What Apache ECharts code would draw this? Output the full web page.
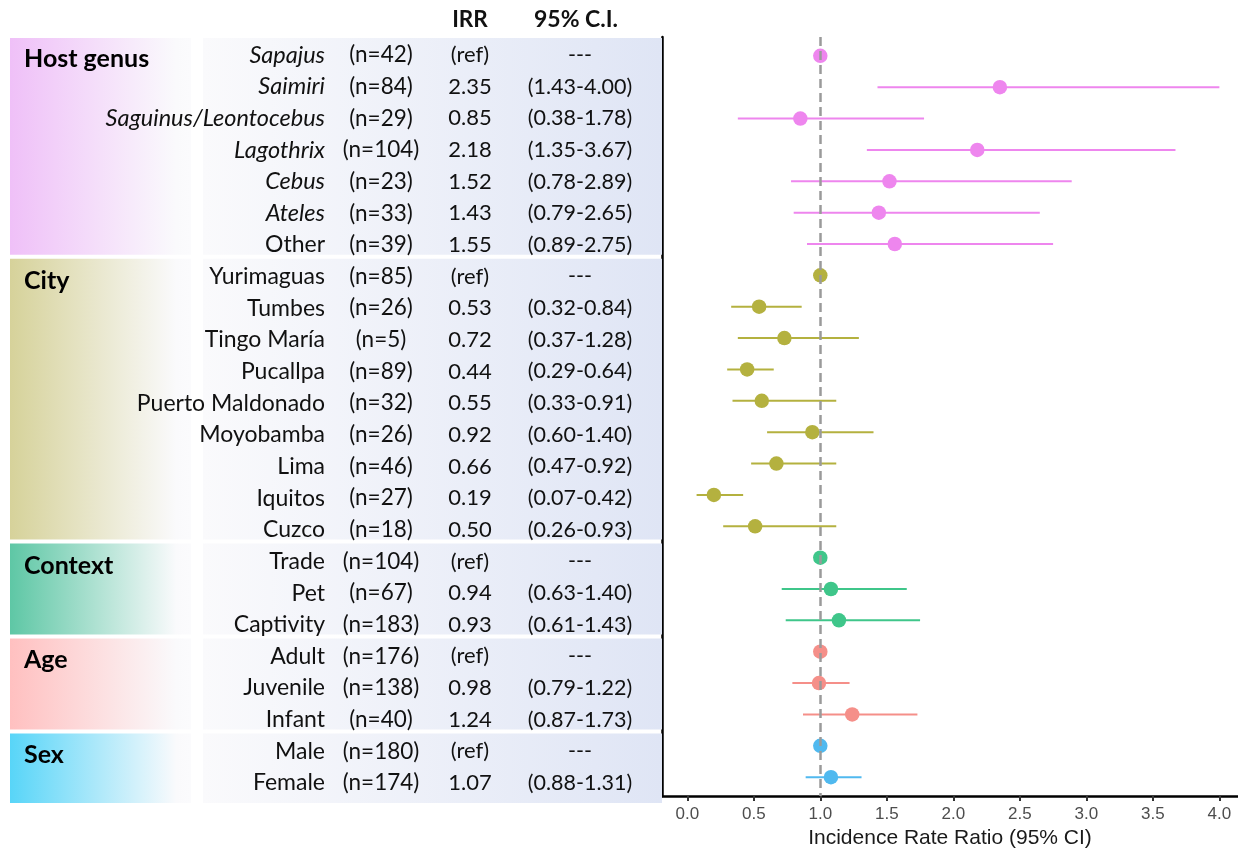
<!DOCTYPE html>
<html><head><meta charset="utf-8">
<script src="https://cdn.jsdelivr.net/npm/echarts@6/dist/echarts.min.js"></script>
<style>html,body{margin:0;padding:0;background:#fff}#c{width:1238px;height:854px}</style>
</head><body><div id="c"></div>
<script>
// ---------- data ----------
const groupNames = ['Host genus', 'City', 'Context', 'Age', 'Sex'];
const groupSizes = [7, 9, 3, 3, 2];
const categories = ['Sapajus', 'Saimiri', 'Saguinus/Leontocebus', 'Lagothrix', 'Cebus', 'Ateles', 'Other',
  'Yurimaguas', 'Tumbes', 'Tingo María', 'Pucallpa', 'Puerto Maldonado', 'Moyobamba', 'Lima', 'Iquitos', 'Cuzco',
  'Trade', 'Pet', 'Captivity',
  'Adult', 'Juvenile', 'Infant',
  'Male', 'Female'];
const nLabels = ['(n=42)', '(n=84)', '(n=29)', '(n=104)', '(n=23)', '(n=33)', '(n=39)',
  '(n=85)', '(n=26)', '(n=5)', '(n=89)', '(n=32)', '(n=26)', '(n=46)', '(n=27)', '(n=18)',
  '(n=104)', '(n=67)', '(n=183)',
  '(n=176)', '(n=138)', '(n=40)',
  '(n=180)', '(n=174)'];
const irrLabels = ['(ref)', '2.35', '0.85', '2.18', '1.52', '1.43', '1.55',
  '(ref)', '0.53', '0.72', '0.44', '0.55', '0.92', '0.66', '0.19', '0.50',
  '(ref)', '0.94', '0.93',
  '(ref)', '0.98', '1.24',
  '(ref)', '1.07'];
const ciLabels = ['---', '(1.43-4.00)', '(0.38-1.78)', '(1.35-3.67)', '(0.78-2.89)', '(0.79-2.65)', '(0.89-2.75)',
  '---', '(0.32-0.84)', '(0.37-1.28)', '(0.29-0.64)', '(0.33-0.91)', '(0.60-1.40)', '(0.47-0.92)', '(0.07-0.42)', '(0.26-0.93)',
  '---', '(0.63-1.40)', '(0.61-1.43)',
  '---', '(0.79-1.22)', '(0.87-1.73)',
  '---', '(0.88-1.31)'];
// plotted values
const est = [1.00, 2.35, 0.85, 2.18, 1.52, 1.44, 1.56,
  1.00, 0.54, 0.73, 0.45, 0.56, 0.94, 0.67, 0.20, 0.51,
  1.00, 1.08, 1.14,
  1.00, 0.99, 1.24,
  1.00, 1.08];
const lo = [null, 1.43, 0.38, 1.35, 0.78, 0.80, 0.90,
  null, 0.33, 0.38, 0.30, 0.34, 0.60, 0.48, 0.07, 0.27,
  null, 0.71, 0.74,
  null, 0.79, 0.87,
  null, 0.89];
const hi = [null, 4.00, 1.78, 3.67, 2.89, 2.65, 2.75,
  null, 0.86, 1.29, 0.65, 1.12, 1.40, 1.12, 0.42, 1.12,
  null, 1.65, 1.75,
  null, 1.22, 1.73,
  null, 1.31];
const xTicks = [0, 0.5, 1, 1.5, 2, 2.5, 3, 3.5, 4];
const refValue = 1;
const headerLabels = ['IRR', '95% C.I.'];

// ---------- styles ----------
const groupColors = ['#ee86ee', '#b4b13f', '#3fc68a', '#f58f89', '#50b9ef'];
const bandColors = ['#efc0f8', '#d6d29a', '#5ec7a5', '#ffc0c0', '#58d5f8'];
const FONT = 'Lato';
const nRows = categories.length;
const rowGroup = [];
const groupStart = [];
groupSizes.forEach((s, g) => { groupStart.push(rowGroup.length + 1); for (let k = 0; k < s; k++) rowGroup.push(g); });

const Y_MIN = 0.4, Y_MAX = nRows + 0.6;

// ---------- series ----------
const bandData = groupSizes.map((s, g) => [0, groupStart[g], groupStart[g] + s - 1, g]);
const textData = categories.map((c, i) => [0, i + 1]);

function renderBand(params, api) {
  const s = api.value(1), e = api.value(2), g = api.value(3);
  let top = api.coord([0, s - 0.5])[1] - 3;
  let bot = api.coord([0, e + 0.5])[1] - 7;
  if (g === 0) top = api.coord([0, Y_MIN])[1] + 1;
  if (g === groupSizes.length - 1) bot = api.coord([0, Y_MAX])[1];
  const x0 = api.coord([10, 0])[0], x1 = api.coord([191, 0])[0];
  const x2 = api.coord([203, 0])[0], x3 = api.coord([662, 0])[0];
  const y0 = api.coord([0, s])[1];
  return {
    type: 'group',
    children: [
      { type: 'rect', shape: { x: x0, y: top, width: x1 - x0, height: bot - top },
        style: { fill: new echarts.graphic.LinearGradient(0, 0, 1, 0, [
          { offset: 0, color: bandColors[g] }, { offset: 0.92, color: '#fafafc' }, { offset: 1, color: '#fbfbfd' }]) } },
      { type: 'rect', shape: { x: x2, y: top, width: x3 - x2, height: bot - top },
        style: { fill: new echarts.graphic.LinearGradient(0, 0, 1, 0, [
          { offset: 0, color: '#fafafc' }, { offset: 1, color: '#dfe5f5' }]) } },
      { type: 'text', x: 24, y: y0 + 3,
        style: { text: groupNames[g], fill: '#000', font: 'bold 25px ' + FONT, align: 'left', verticalAlign: 'middle' } }
    ]
  };
}

function renderRow(params, api) {
  const r = api.value(1);
  const i = r - 1;
  const y = api.coord([0, r])[1] - 1;
  const italic = rowGroup[i] === 0 && categories[i] !== 'Other';
  const nameFont = italic ? 'italic 23.5px ' + FONT : '23px ' + FONT;
  const mk = (x, t, align, font) => ({ type: 'text', x: api.coord([x, 0])[0], y: y,
    style: { text: t, fill: '#111', font: font, align: align, verticalAlign: 'middle' } });
  const children = [
    mk(325, categories[i], 'right', nameFont),
    mk(381, nLabels[i], 'center', '22.5px ' + FONT),
    mk(470, irrLabels[i], 'center', '22px ' + FONT),
    mk(580, ciLabels[i], 'center', '21.5px ' + FONT)
  ];
  if (r === 1) {
    const hy = api.coord([0, Y_MIN])[1] - 17;
    children.push({ type: 'text', x: api.coord([470, 0])[0], y: hy, style: { text: headerLabels[0], fill: '#111', font: 'bold 22.5px ' + FONT, align: 'center', verticalAlign: 'middle' } });
    children.push({ type: 'text', x: api.coord([576, 0])[0], y: hy, style: { text: headerLabels[1], fill: '#111', font: 'bold 23px ' + FONT, align: 'center', verticalAlign: 'middle' } });
  }
  return { type: 'group', children };
}

function renderCI(params, api) {
  const r = api.value(0), l = api.value(1), h = api.value(2);
  const p1 = api.coord([l, r]), p2 = api.coord([h, r]);
  return { type: 'line', shape: { x1: p1[0], y1: p1[1], x2: p2[0], y2: p2[1] },
    style: { stroke: api.visual('color'), lineWidth: 2 } };
}

const series = [
  { type: 'custom', xAxisIndex: 1, yAxisIndex: 1, renderItem: renderBand, data: bandData, encode: { x: 0, y: 1 }, silent: true, z: 1 },
  { type: 'custom', xAxisIndex: 1, yAxisIndex: 1, renderItem: renderRow, data: textData, encode: { x: 0, y: 1 }, silent: true, z: 3 }
];
groupSizes.forEach((s, g) => {
  const ciData = [], ptData = [];
  for (let k = 0; k < s; k++) {
    const i = groupStart[g] - 1 + k;
    if (lo[i] != null) ciData.push([i + 1, lo[i], hi[i]]);
    ptData.push([est[i], i + 1]);
  }
  series.push({ type: 'custom', xAxisIndex: 0, yAxisIndex: 0, renderItem: renderCI, data: ciData,
    encode: { x: [1, 2], y: 0 }, itemStyle: { color: groupColors[g] }, silent: true, z: 2 });
  series.push({ type: 'scatter', xAxisIndex: 0, yAxisIndex: 0, data: ptData, symbolSize: 14.5,
    itemStyle: { color: groupColors[g], opacity: 1 }, silent: true, z: 3 });
});
series.push({ type: 'scatter', xAxisIndex: 0, yAxisIndex: 0, data: [], z: 5,
  markLine: { silent: true, symbol: 'none', label: { show: false }, animation: false,
    lineStyle: { type: [9, 5], color: '#9a9a9a', width: 2.5 }, data: [{ xAxis: refValue }] } });

const rowTicks = categories.map((c, i) => i + 1);

const option = {
  animation: false,
  backgroundColor: '#fff',
  grid: [
    { left: 662, right: 0, top: 37, bottom: 51 },
    { left: 0, width: 662, top: 37, bottom: 51 }
  ],
  xAxis: [
    { type: 'value', gridIndex: 0, min: -0.19, max: 4.14,
      axisLine: { show: true, onZero: false, lineStyle: { color: '#000', width: 2.5 } },
      axisTick: { show: true, customValues: xTicks, length: 5, lineStyle: { color: '#333', width: 2 } },
      axisLabel: { show: true, customValues: xTicks, formatter: v => v.toFixed(1), color: '#4d4d4d',
        fontSize: 17, fontFamily: 'Liberation Sans', margin: 10 },
      splitLine: { show: false },
      name: 'Incidence Rate Ratio (95% CI)', nameLocation: 'middle', nameGap: 32,
      nameTextStyle: { fontSize: 21, color: '#1a1a1a', fontFamily: 'Liberation Sans' } },
    { type: 'value', gridIndex: 1, min: 0, max: 662, show: false }
  ],
  yAxis: [
    { type: 'value', gridIndex: 0, inverse: true, min: Y_MIN, max: Y_MAX,
      axisLine: { show: true, onZero: false, lineStyle: { color: '#000', width: 2.5 } },
      axisTick: { show: true, customValues: rowTicks, length: 5, lineStyle: { color: '#333', width: 2 } },
      axisLabel: { show: false }, splitLine: { show: false } },
    { type: 'value', gridIndex: 1, inverse: true, min: Y_MIN, max: Y_MAX, show: false }
  ],
  series
};
const chart = echarts.init(document.getElementById('c'), null, { renderer: 'canvas' });
chart.setOption(option);
</script>
</body></html>
